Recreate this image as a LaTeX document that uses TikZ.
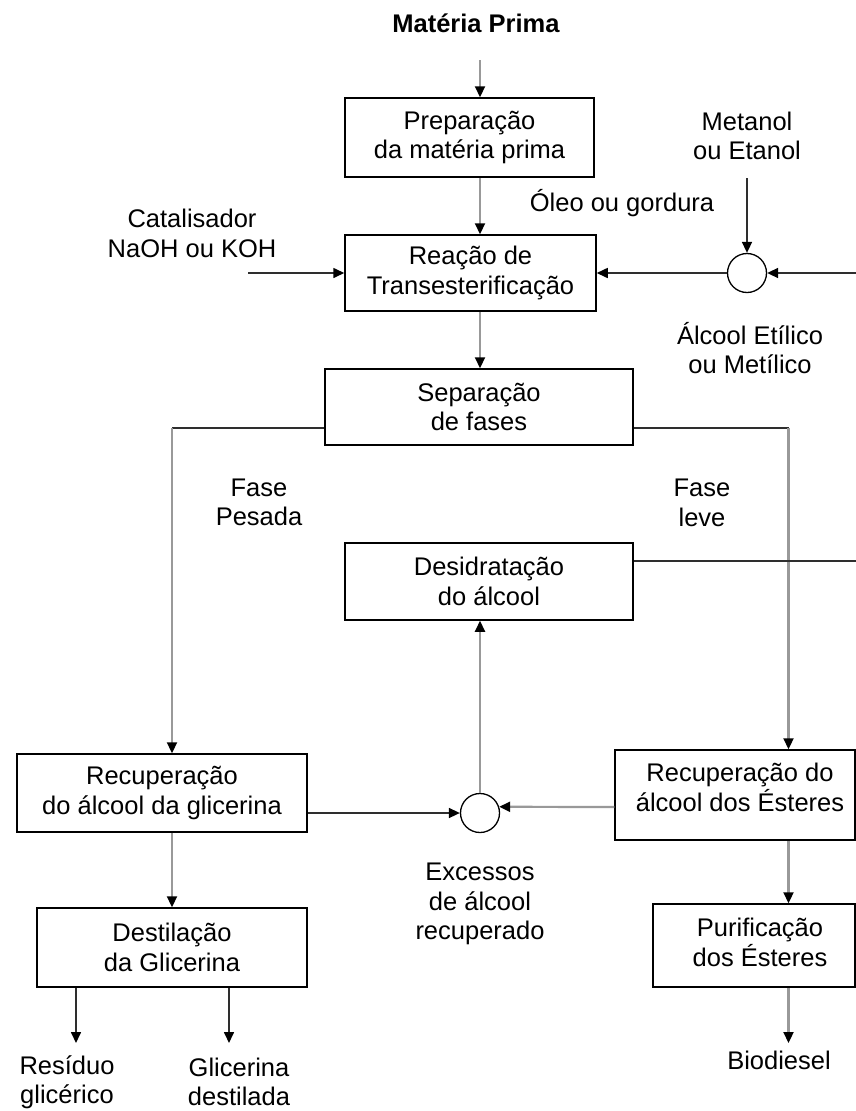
\documentclass[tikz,border=0pt]{standalone}
\usepackage{fontspec}
\setmainfont{Liberation Sans}
\usetikzlibrary{arrows.meta}
\definecolor{lg}{HTML}{999999}
\definecolor{ld}{HTML}{2E2E2E}
\begin{document}
\begin{tikzpicture}[x=1pt,y=-1pt,
  every node/.style={font=\fontsize{25.5}{29.5}\selectfont, align=center, inner sep=0pt},
  box/.style={draw=black, line width=1.5pt, inner sep=0pt},
  lineg/.style={draw=lg, line width=2.2pt},
  lined/.style={draw=ld, line width=1.6pt},
  tip/.style={-{Triangle[length=11pt,width=10pt,color=black]}},
  junc/.style={circle, draw=black, line width=1.3pt, minimum size=39pt, inner sep=0pt}]
\useasboundingbox (0,0) rectangle (856,1111);

% title
\node[font=\bfseries\fontsize{25.5}{29.5}\selectfont] (mp) at (476,23) {Matéria Prima};

% boxes
\node[box, minimum width=249pt, minimum height=79pt] (prep) at (469.5,137.5) {Preparação\\da matéria prima};
\node[box, minimum width=251pt, minimum height=76pt] (reac) at (470.5,273) {Reação de\\Transesterificação};
\node[box, minimum width=308pt, minimum height=76pt] (sep) at (479,407) {Separação\\de fases};
\node[box, minimum width=288pt, minimum height=77pt] (desi) at (489,581.5) {Desidratação\\do álcool};
\node[box, minimum width=290pt, minimum height=78pt] (recg) at (162,793) {Recuperação\\do álcool da glicerina};
\node[box, minimum width=270pt, minimum height=79pt] (dest) at (172,947.5) {Destilação\\da Glicerina};
\node[box, minimum width=240pt, minimum height=90pt,
  label={[xshift=5pt,yshift=7.5pt,align=center]center:{Recuperação do\\álcool dos Ésteres}}] (rece) at (735,795) {};
\node[box, minimum width=202pt, minimum height=83pt,
  label={[xshift=6pt,yshift=3pt,align=center]center:{Purificação\\dos Ésteres}}] (puri) at (754,945.5) {};

% junctions
\node[junc] (c1) at (747,273) {};
\node[junc] (c2) at (480,813) {};

% labels
\node (met) at (747,136) {Metanol\\ou Etanol};
\node (oleo) at (622,203) {Óleo ou gordura};
\node (cat) at (192,233.5) {Catalisador\\NaOH ou KOH};
\node (alc) at (750,348) {Álcool Etílico\\ou Metílico};
\node (fp) at (259,502.5) {Fase\\Pesada};
\node (fl) at (702,503) {Fase\\leve};
\node (exc) at (480,904) {Excessos\\de álcool\\recuperado};
\node (res) at (67,1082) {Resíduo\\glicérico};
\node (gli) at (239,1082) {Glicerina\\destilada};
\node (bio) at (779,1060) {Biodiesel};

% free ends
\coordinate (a0) at (480,60);
\coordinate (catS) at (248,273);
\coordinate (metS) at (747,178);
\coordinate (rE1) at (856,273);
\coordinate (lx) at (172,428);
\coordinate (rx) at (788.5,428);
\coordinate (rE2) at (856,561);
\coordinate (o1) at (76,1043);
\coordinate (o2) at (229,1043);
\coordinate (o3) at (788.5,1043);

% connectors
\draw[lineg,tip] (a0) -- (a0 |- prep.north);
\draw[lineg,tip] (prep.south -| a0) -- (reac.north -| a0);
\draw[lined,tip] (catS) -- (reac.west);
\draw[lined,tip] (metS) -- (c1.north);
\draw[lined,tip] (c1.west) -- (reac.east);
\draw[lined,tip] (rE1) -- (c1.east);
\draw[lineg,tip] (reac.south -| a0) -- (sep.north -| a0);
\draw[lined] ([yshift=-21pt]sep.west) -- (lx);
\draw[lineg,tip] (lx) -- (lx |- recg.north);
\draw[lined] ([yshift=-21pt]sep.east) -- (rx);
\draw[lineg,tip] (rx) -- (rx |- rece.north);
\draw[lined] ([yshift=20.5pt]desi.east) -- (rE2);
\draw[lineg,tip] (c2.north) -- (c2.north |- desi.south);
\draw[lined,tip] ([yshift=-20pt]recg.east) -- (c2.west);
\draw[lineg,tip] ([yshift=-12pt]rece.west) -- (c2.18);
\draw[lineg,tip] (recg.south -| lx) -- (dest.north -| lx);
\draw[lined,tip] (dest.south -| o1) -- (o1);
\draw[lined,tip] (dest.south -| o2) -- (o2);
\draw[lineg,tip] (rece.south -| o3) -- (puri.north -| o3);
\draw[lineg,tip] (puri.south -| o3) -- (o3);
\end{tikzpicture}
\end{document}
